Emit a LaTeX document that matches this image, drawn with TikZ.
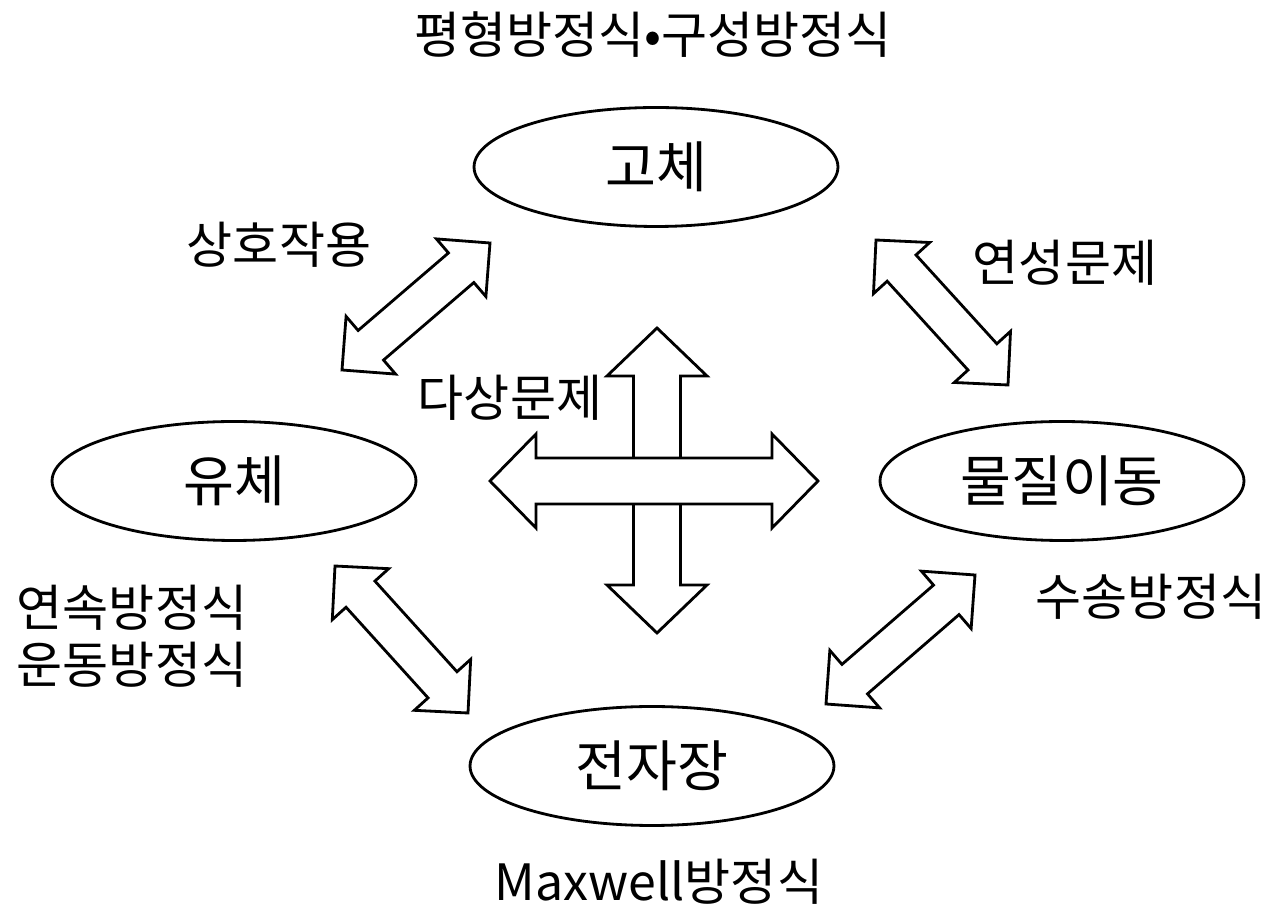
\documentclass[tikz,border=0pt]{standalone}
\usepackage{fontspec}
\setmainfont{Noto Sans CJK KR}
\usepackage{tikz}
\usetikzlibrary{calc,shapes.geometric}

% block double arrow: from, to, head length, head half width, shaft half width
\newcommand{\blkarrow}[5]{%
  \draw[blk] (#1) -- ($(#1)!#3!(#2)!#4!90:(#2)$) -- ($(#1)!#3!(#2)!#5!90:(#2)$)
    -- ($(#2)!#3!(#1)!#5!-90:(#1)$) -- ($(#2)!#3!(#1)!#4!-90:(#1)$) -- (#2)
    -- ($(#2)!#3!(#1)!#4!90:(#1)$) -- ($(#2)!#3!(#1)!#5!90:(#1)$)
    -- ($(#1)!#3!(#2)!#5!-90:(#2)$) -- ($(#1)!#3!(#2)!#4!-90:(#2)$) -- cycle;}

\begin{document}
\begin{tikzpicture}[x=0.02cm,y=-0.02cm,
      phase/.style={ellipse,draw,line width=1.6pt,minimum width=7.28cm,minimum height=2.38cm,
        inner sep=0pt,font=\fontsize{31.5}{37}\selectfont},
      lbl/.style={inner sep=0pt,font=\fontsize{28.5}{32.6}\selectfont,align=center},
      blk/.style={draw,fill=white,line width=1.6pt,line join=miter}]
    \useasboundingbox (0,0) rectangle (1279,911);

    % phases
    \node[phase] (solid) at (656,167) {고체};
    \node[phase] (fluid) at (234,481) {유체};
    \node[phase] (mass) at (1062,481) {물질이동};
    \node[phase] (emf) at (652,766) {전자장};

    % equations and couplings
    \node[lbl] (eqsolid) at (653,35) {평형방정식•구성방정식};
    \node[lbl] (inter) at (279,245) {상호작용};
    \node[lbl] (coupled) at (1065,263) {연성문제};
    \node[lbl] (multi) at (510,398) {다상문제};
    \node[lbl] (eqfluid) at (132,636) {연속방정식\\운동방정식};
    \node[lbl] (eqmass) at (1151,597) {수송방정식};
    \node[lbl] (eqemf) at (659,882) {Maxwell방정식};

    % arrow ends
    \coordinate (sf1) at (490,243);   \coordinate (sf2) at (342,370);
    \coordinate (sm1) at (876,240);   \coordinate (sm2) at (1008,385);
    \coordinate (fe1) at (335,566);   \coordinate (fe2) at (468,713);
    \coordinate (me1) at (975,575);   \coordinate (me2) at (826,704);
    \coordinate (up) at (657,328);    \coordinate (down) at (657,633);
    \coordinate (left) at (490,481);  \coordinate (right) at (818,481);

    \blkarrow{sf1}{sf2}{0.76cm}{0.76cm}{0.39cm}
    \blkarrow{sm1}{sm2}{0.76cm}{0.76cm}{0.39cm}
    \blkarrow{fe1}{fe2}{0.76cm}{0.76cm}{0.39cm}
    \blkarrow{me1}{me2}{0.76cm}{0.76cm}{0.39cm}
    \blkarrow{up}{down}{0.96cm}{1.0cm}{0.47cm}
    \blkarrow{left}{right}{0.92cm}{0.94cm}{0.46cm}
  \end{tikzpicture}
\end{document}
